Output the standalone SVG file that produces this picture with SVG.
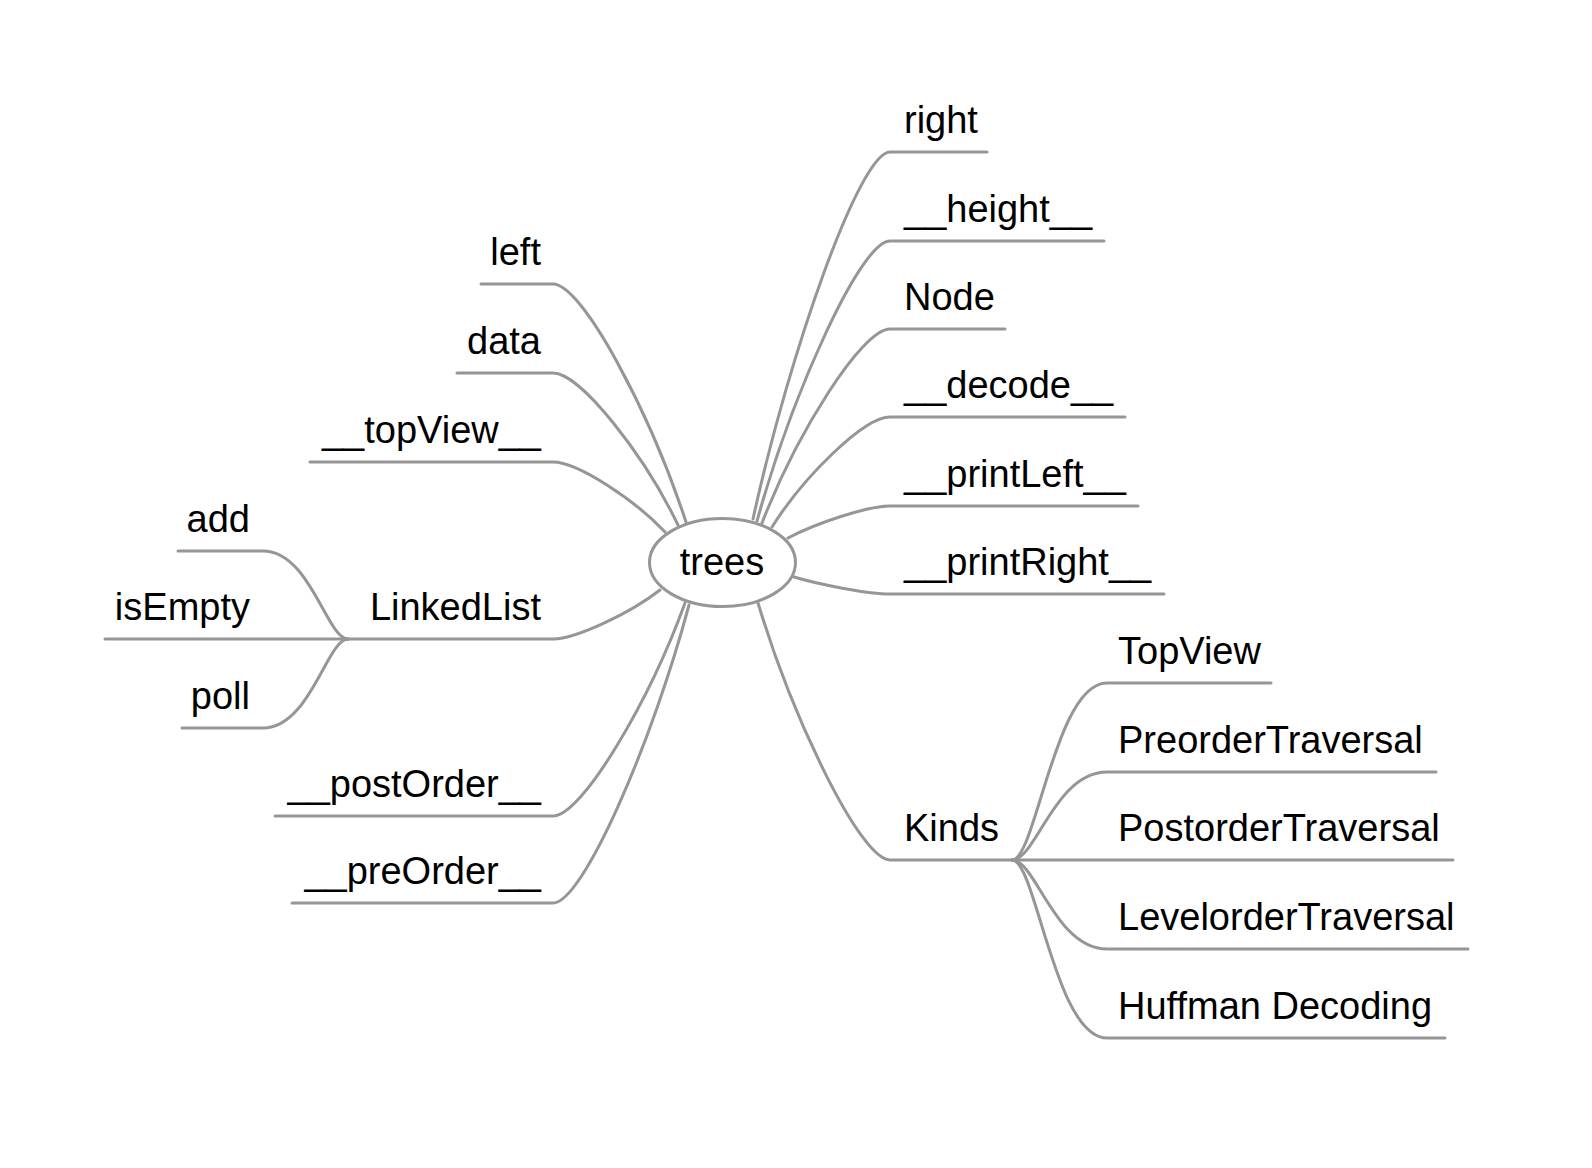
<svg xmlns="http://www.w3.org/2000/svg" width="1592" height="1168" viewBox="0 0 1592 1168">
<style>
.c{fill:none;stroke:#969696;stroke-width:3;stroke-linecap:round}
text{font-family:"Liberation Sans",Arial,sans-serif;font-size:38px;fill:#000}
.l{text-anchor:end}
</style>
<rect width="1592" height="1168" fill="#fff"/>
<g id="connectors">
<path class="c" d="M753,519 C790,350.2 859.9,152 890,152 H987"/>
<path class="c" d="M757,521 C792.9,392.2 860.7,241 890,241 H1104"/>
<path class="c" d="M762,523 C796.6,433.8 861.8,329 890,329 H1005"/>
<path class="c" d="M772,527 C803.9,476.4 864,417 890,417 H1125"/>
<path class="c" d="M788,538 C815.5,523.3 867.6,506 890,506 H1138"/>
<path class="c" d="M794,577 C819.9,584.8 868.9,594 890,594 H1164"/>
<path class="c" d="M758,603 C793.6,721.2 861,860 890,860 H1012"/>
<path class="c" d="M686,522 C650.1,412.5 582.3,284 553,284 H481"/>
<path class="c" d="M678,525 C644.25,455.1 580.5,373 553,373 H457"/>
<path class="c" d="M665,532 C634.8,499.8 577.6,462 553,462 H310"/>
<path class="c" d="M660,590 C631.1,612.5 576.5,639 553,639 H348"/>
<path class="c" d="M685,603 C649.4,701 582,816 553,816 H275"/>
<path class="c" d="M689,605 C652.3,742.1 583,903 553,903 H292"/>
<path class="c" d="M1012,860 C1036,860 1055,683 1107,683 H1271"/>
<path class="c" d="M1012,860 C1036,860 1055,772 1107,772 H1436"/>
<path class="c" d="M1012,860 H1453"/>
<path class="c" d="M1012,860 C1036,860 1055,949 1107,949 H1468"/>
<path class="c" d="M1012,860 C1036,860 1055,1038 1107,1038 H1445"/>
<path class="c" d="M348,639 C327,639 310,551 263,551 H178"/>
<path class="c" d="M348,639 H105"/>
<path class="c" d="M348,639 C327,639 310,728 263,728 H182"/>
</g>
<g id="trees">
<ellipse cx="722.5" cy="562.5" rx="73" ry="44" fill="#fff" stroke="#969696" stroke-width="3"/>
<text x="722" y="575" text-anchor="middle">trees</text>
</g>
<g id="right"><text x="904" y="133">right</text></g>
<g id="height"><text x="904" y="222">__height__</text></g>
<g id="Node"><text x="904" y="310">Node</text></g>
<g id="decode"><text x="904" y="398">__decode__</text></g>
<g id="printLeft"><text x="904" y="487">__printLeft__</text></g>
<g id="printRight"><text x="904" y="575">__printRight__</text></g>
<g id="Kinds"><text x="904" y="841">Kinds</text></g>
<g id="TopView"><text x="1118" y="664">TopView</text></g>
<g id="PreorderTraversal"><text x="1118" y="753">PreorderTraversal</text></g>
<g id="PostorderTraversal"><text x="1118" y="841">PostorderTraversal</text></g>
<g id="LevelorderTraversal"><text x="1118" y="930">LevelorderTraversal</text></g>
<g id="HuffmanDecoding"><text x="1118" y="1019">Huffman Decoding</text></g>
<g id="left"><text class="l" x="541" y="265">left</text></g>
<g id="data"><text class="l" x="541" y="354">data</text></g>
<g id="topView"><text class="l" x="541" y="443">__topView__</text></g>
<g id="LinkedList"><text class="l" x="541" y="620">LinkedList</text></g>
<g id="postOrder"><text class="l" x="541" y="797">__postOrder__</text></g>
<g id="preOrder"><text class="l" x="541" y="884">__preOrder__</text></g>
<g id="add"><text class="l" x="250" y="532">add</text></g>
<g id="isEmpty"><text class="l" x="250" y="620">isEmpty</text></g>
<g id="poll"><text class="l" x="250" y="709">poll</text></g>
</svg>
